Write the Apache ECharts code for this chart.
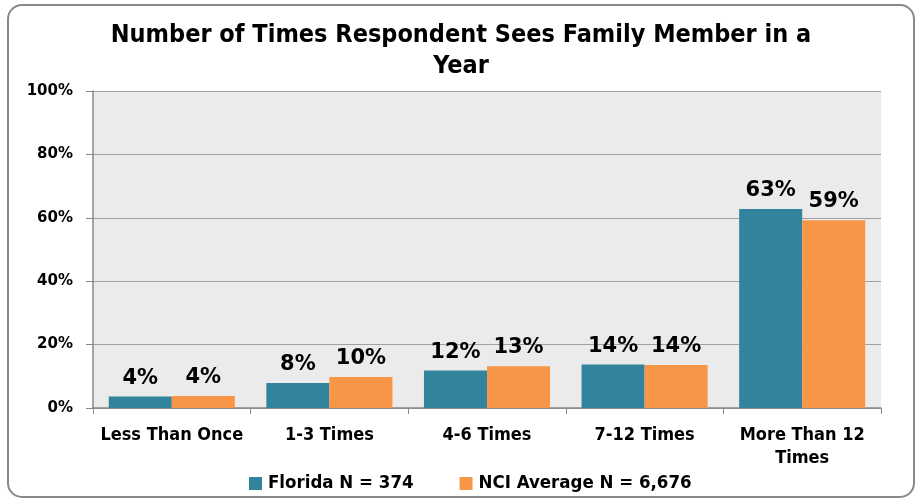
<!DOCTYPE html>
<html><head><meta charset="utf-8">
<script src="https://cdn.jsdelivr.net/npm/echarts@6/dist/echarts.min.js"></script>
<style>html,body{margin:0;padding:0;background:#fff}#c{width:922px;height:501px}</style>
</head><body><div id="c"></div>
<script>
const categories = ['Less Than Once', '1-3 Times', '4-6 Times', '7-12 Times', 'More Than 12\nTimes'];
const florida = [3.6, 7.9, 11.8, 13.7, 62.8];
const nci = [3.8, 9.8, 13.2, 13.6, 59.2];
const seriesNames = ['Florida N = 374', 'NCI Average N = 6,676'];
const titleText = 'Number of Times Respondent Sees Family Member in a\nYear';
const FONT = '"Liberation Sans Narrow", "DejaVu Sans Condensed", sans-serif';
const WIDE = '"DejaVu Sans", sans-serif';

const chart = echarts.init(document.getElementById('c'));
const lbl = {
  show: true, position: 'top', distance: 8,
  fontFamily: WIDE, fontWeight: 'bold', fontSize: 21, color: '#000',
  formatter: p => Math.round(p.value) + '%'
};
chart.setOption({
  animation: false,
  graphic: [{
    type: 'rect', shape: { x: 8, y: 5, width: 906, height: 492, r: 14 },
    style: { fill: 'none', stroke: '#888', lineWidth: 2 }, z: -10
  }],
  title: {
    text: titleText, left: 'center', top: 15,
    textStyle: { fontFamily: FONT, fontWeight: 'bold', fontSize: 25, lineHeight: 31, color: '#000' }
  },
  legend: {
    bottom: 3, left: 244, itemWidth: 13, itemHeight: 13, itemGap: 46,
    icon: 'rect',
    textStyle: { fontFamily: FONT, fontWeight: 'bold', fontSize: 18.5, color: '#000', padding: [0, 0, 0, 1] }
  },
  grid: { left: 93, right: 41, top: 91, bottom: 93, backgroundColor: '#ebebeb', show: true, borderWidth: 0 },
  xAxis: {
    type: 'category', data: categories,
    axisLine: { lineStyle: { color: '#888', width: 1.5 } },
    axisTick: { show: true, length: 6, lineStyle: { color: '#888' } },
    axisLabel: { fontFamily: FONT, fontWeight: 'bold', fontSize: 18, color: '#000', margin: 16, lineHeight: 23, interval: 0 }
  },
  yAxis: {
    type: 'value', min: 0, max: 100, interval: 20,
    axisLine: { show: true, lineStyle: { color: '#888', width: 1.5 } },
    axisTick: { show: true, length: 7, lineStyle: { color: '#888' } },
    splitLine: { lineStyle: { color: '#a0a0a0', width: 1 } },
    axisLabel: { fontFamily: WIDE, fontWeight: 'bold', fontSize: 15, color: '#000', margin: 20, formatter: '{value}%' }
  },
  series: [
    { name: seriesNames[0], type: 'bar', data: florida, barGap: '0%', barCategoryGap: '20%',
      itemStyle: { color: '#31849b' }, label: lbl },
    { name: seriesNames[1], type: 'bar', data: nci,
      itemStyle: { color: '#f79646' }, label: lbl }
  ]
});
</script></body></html>
